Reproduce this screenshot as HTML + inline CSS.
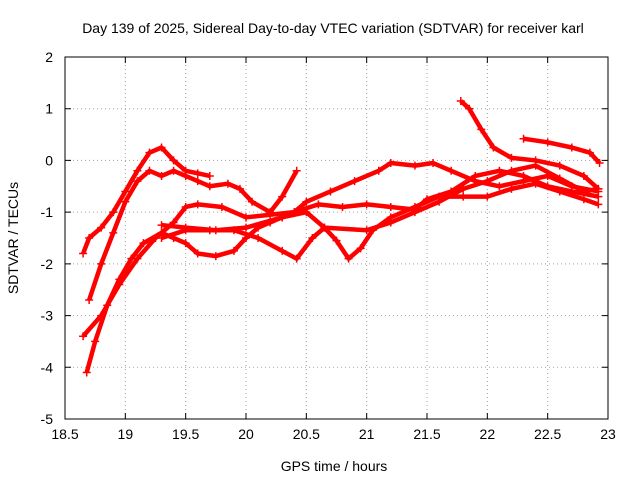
<!DOCTYPE html>
<html><head><meta charset="utf-8"><style>
body{margin:0;background:#fff}
svg{display:block;font-family:"Liberation Sans",sans-serif}
</style></head><body>
<svg id="chart" width="640" height="480">
<text x="333" y="33" font-size="14" text-anchor="middle">Day 139 of 2025, Sidereal Day-to-day VTEC variation (SDTVAR) for receiver karl</text>
<text x="334" y="471" font-size="14" text-anchor="middle">GPS time / hours</text>
<text transform="translate(18,238) rotate(-90)" font-size="14" text-anchor="middle">SDTVAR / TECUs</text>
<g id="grid"></g><g id="series"></g><g id="axes"></g>
</svg>
<script>
const xTicks=[18.5,19,19.5,20,20.5,21,21.5,22,22.5,23];
const yTicks=[2,1,0,-1,-2,-3,-4,-5];
const s1t=[18.68,18.75,18.85,18.95,19.05,19.15,19.3,19.4,19.5,19.6,19.75,19.9,20,20.1,20.2,20.3,20.4,20.6,20.8,21,21.2,21.4,21.5,21.7,21.9,22.1,22.3,22.5,22.7,22.92];
const s1v=[-4.1,-3.5,-2.8,-2.3,-1.9,-1.6,-1.4,-1.5,-1.6,-1.8,-1.85,-1.75,-1.5,-1.3,-1.2,-1.1,-1.0,-0.85,-0.9,-0.85,-0.9,-0.95,-0.75,-0.6,-0.3,-0.2,-0.3,-0.5,-0.6,-0.7];
const s2t=[18.65,18.8,18.95,19.1,19.25,19.4,19.5,19.6,19.8,20,20.2,20.4,20.5,20.7,20.9,21.1,21.2,21.4,21.55,21.7,21.9,22.1,22.3,22.5,22.7,22.92];
const s2v=[-3.4,-3.0,-2.4,-1.9,-1.5,-1.2,-0.9,-0.85,-0.9,-1.1,-1.05,-1.0,-0.8,-0.6,-0.4,-0.2,-0.05,-0.1,-0.05,-0.2,-0.4,-0.5,-0.4,-0.3,-0.5,-0.6];
const s3t=[18.65,18.7,18.8,18.9,19.0,19.1,19.2,19.3,19.4,19.5,19.6,19.7];
const s3v=[-1.8,-1.5,-1.3,-1.0,-0.6,-0.2,0.15,0.25,0.0,-0.2,-0.25,-0.3];
const s4t=[18.7,18.8,18.9,19.0,19.1,19.2,19.3,19.4,19.5,19.6,19.7,19.85,19.95,20.05,20.2,20.3,20.42];
const s4v=[-2.7,-2.0,-1.4,-0.8,-0.4,-0.2,-0.3,-0.2,-0.3,-0.4,-0.5,-0.45,-0.55,-0.8,-1.0,-0.7,-0.2];
const s5t=[19.3,19.5,19.7,19.9,20.1,20.3,20.42,20.55,20.65,20.75,20.85,20.95,21.05,21.2,21.4,21.6,21.8,22,22.2,22.4,22.6,22.8,22.92];
const s5v=[-1.5,-1.35,-1.35,-1.35,-1.5,-1.75,-1.9,-1.5,-1.3,-1.55,-1.9,-1.7,-1.35,-1.1,-0.9,-0.7,-0.7,-0.7,-0.55,-0.45,-0.6,-0.75,-0.85];
const s6t=[19.3,19.5,19.75,20,20.3,20.5,20.65,21,21.2,21.4,21.6,21.8,22,22.2,22.4,22.6,22.8,22.92];
const s6v=[-1.25,-1.3,-1.35,-1.3,-1.1,-1.0,-1.3,-1.35,-1.2,-1.0,-0.8,-0.55,-0.4,-0.2,-0.1,-0.35,-0.6,-0.55];
const s7t=[21.78,21.85,21.95,22.05,22.2,22.4,22.6,22.8,22.92];
const s7v=[1.15,1.0,0.6,0.25,0.05,0.0,-0.1,-0.3,-0.55];
const s8t=[22.3,22.5,22.7,22.85,22.93];
const s8v=[0.42,0.35,0.25,0.15,-0.05];
const X0=65,X1=608,Y0=57,Y1=419;
const xs=v=>X0+(v-18.5)/(23-18.5)*(X1-X0);
const ys=v=>Y0+(2-v)/7*(Y1-Y0);
const NS="http://www.w3.org/2000/svg";
function mk(t,a,p){const e=document.createElementNS(NS,t);for(const k in a)e.setAttribute(k,a[k]);p.appendChild(e);return e;}
const grid=document.getElementById('grid'),axes=document.getElementById('axes'),ser=document.getElementById('series');
xTicks.forEach(t=>{const x=xs(t);
 if(t>18.5&&t<23){const g=mk('line',{x1:x,x2:x,y1:Y0,y2:Y1,stroke:'#a0a0a0','stroke-dasharray':'1,3'},grid);
 
 }
 const tk=mk('path',{d:`M${x},${Y1}v-6M${x},${Y0}v6`,stroke:'#000'},axes);
 
 
 const l=mk('text',{x:x,y:Y1+20,'font-size':14,'text-anchor':'middle'},axes);l.textContent=t;
 
 });
yTicks.forEach(t=>{const y=ys(t);
 if(t<2&&t>-5){const g=mk('line',{x1:X0,x2:X1,y1:y,y2:y,stroke:'#a0a0a0','stroke-dasharray':'1,3'},grid);
 
 }
 const tk=mk('path',{d:`M${X0},${y}h6M${X1},${y}h-6`,stroke:'#000'},axes);
 
 
 const l=mk('text',{x:X0-12,y:y+5,'font-size':14,'text-anchor':'end'},axes);l.textContent=t;
 
 });
const b=mk('rect',{x:X0,y:Y0,width:X1-X0,height:Y1-Y0,fill:'none',stroke:'#000'},axes);


const all=[[s1t,s1v],[s2t,s2v],[s3t,s3v],[s4t,s4v],[s5t,s5v],[s6t,s6v],[s7t,s7v],[s8t,s8v]];
all.forEach((s,i)=>{const [T,V]=s;
 const pts=T.map((t,j)=>xs(t)+','+ys(V[j])).join(' ');
 const pl=mk('polyline',{points:pts,fill:'none',stroke:'#f00','stroke-width':4.5,'stroke-linejoin':'round'},ser);
 
 
 T.forEach((t,j)=>{const x=xs(t),y=ys(V[j]);
  const m=mk('path',{d:`M${x-4},${y}h8M${x},${y-4}v8`,stroke:'#f00','stroke-width':1.5},ser);
  
  });});
</script>
</body></html>
